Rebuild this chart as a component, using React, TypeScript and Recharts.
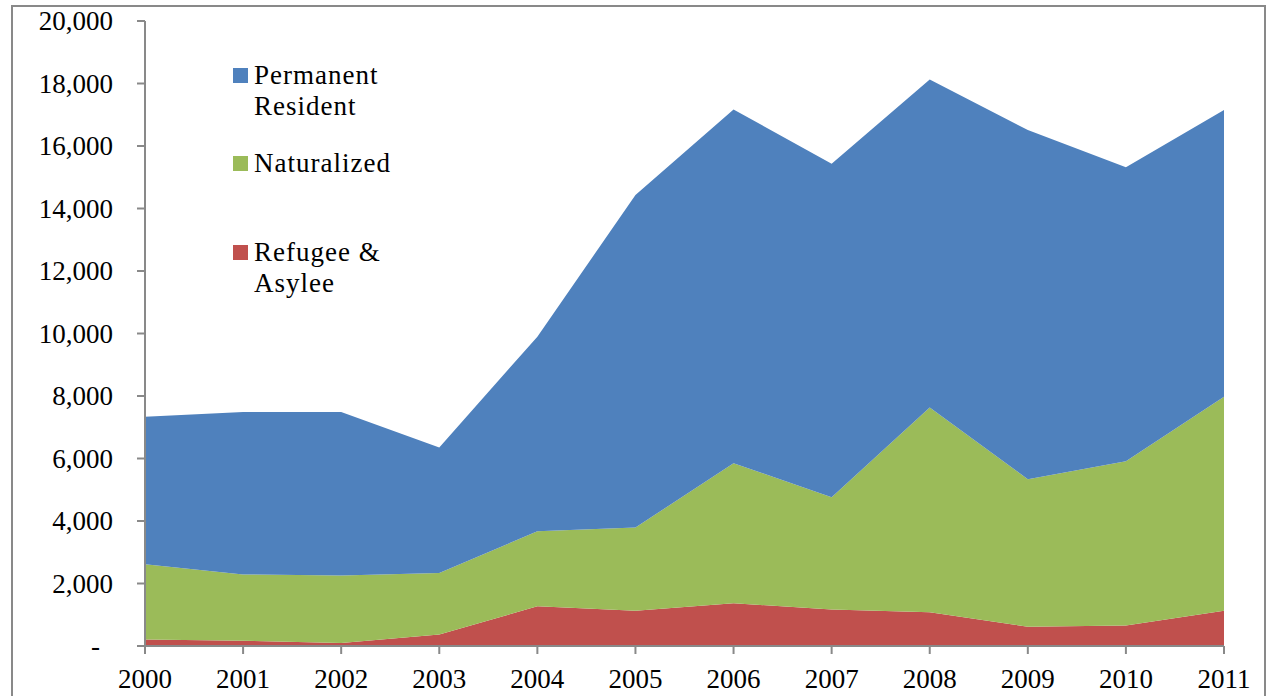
import React from "react";
import { AreaChart, Area, XAxis, YAxis } from "recharts";

const years = ["2000", "2001", "2002", "2003", "2004", "2005", "2006", "2007", "2008", "2009", "2010", "2011"];
const refugeeAsylee = [210, 170, 100, 370, 1270, 1130, 1370, 1170, 1080, 620, 660, 1130];
const naturalized = [2410, 2120, 2160, 1970, 2400, 2660, 4480, 3590, 6550, 4720, 5250, 6850];
const permanentResident = [4720, 5200, 5230, 4010, 6230, 10640, 11320, 10670, 10500, 11170, 9410, 9170];
const yTicks = [0, 2000, 4000, 6000, 8000, 10000, 12000, 14000, 16000, 18000, 20000];

const series = [
  { key: "refugee", name: "Refugee & Asylee", color: "#C0504D" },
  { key: "naturalized", name: "Naturalized", color: "#9BBB59" },
  { key: "permanent", name: "Permanent Resident", color: "#4F81BD" },
];

const data = years.map((year, i) => ({
  year,
  refugee: refugeeAsylee[i],
  naturalized: naturalized[i],
  permanent: permanentResident[i],
}));

const FONT = "'Liberation Serif', 'DejaVu Serif', serif";
const AXIS = "#898989";

const YTick = ({ x, y, payload }: any) => {
  const v = payload.value as number;
  return (
    <text
      x={v === 0 ? x - 13 : x}
      y={y}
      textAnchor="end"
      dominantBaseline="central"
      fill="#000"
      fontSize={27}
      fontFamily={FONT}
    >
      {v === 0 ? "-" : v.toLocaleString("en-US")}
    </text>
  );
};

// legend entries sit at fixed spots, like the Excel legend
const legendTops = [60, 148, 237];

export default function App() {
  const legendItems = [...series].reverse();
  return (
    <div style={{ position: "absolute", left: 0, top: 0, width: 1270, height: 696, overflow: "hidden", background: "#fff" }}>
      <div
        style={{
          position: "absolute",
          left: 11,
          top: 5,
          width: 1255,
          height: 720,
          border: `2px solid ${AXIS}`,
          boxSizing: "border-box",
        }}
      />
      <div style={{ position: "absolute", left: 0, top: 0 }}>
        <AreaChart width={1270} height={696} data={data} margin={{ top: 21, right: 46, left: 0, bottom: 0 }}>
          <XAxis
            dataKey="year"
            height={50}
            stroke={AXIS}
            strokeWidth={2}
            tickSize={8}
            tickMargin={15}
            tick={{ fill: "#000", fontSize: 27, fontFamily: FONT }}
            tickLine={{ stroke: AXIS, strokeWidth: 2 }}
            interval={0}
          />
          <YAxis
            width={145}
            domain={[0, 20000]}
            ticks={yTicks}
            stroke={AXIS}
            strokeWidth={2}
            tickSize={8}
            tickMargin={24}
            tick={<YTick />}
            tickLine={{ stroke: AXIS, strokeWidth: 2 }}
            interval={0}
          />
          {series.map((s) => (
            <Area
              key={s.key}
              type="linear"
              dataKey={s.key}
              name={s.name}
              stackId="a"
              stroke="none"
              fill={s.color}
              fillOpacity={1}
              isAnimationActive={false}
            />
          ))}
        </AreaChart>
      </div>
      {legendItems.map((s, i) => (
        <div
          key={s.key}
          style={{
            position: "absolute",
            left: 233,
            top: legendTops[i],
            display: "flex",
            alignItems: "flex-start",
            fontFamily: FONT,
            fontSize: 27,
            lineHeight: "31px",
            letterSpacing: 1,
            color: "#000",
          }}
        >
          <div style={{ width: 15, height: 15, background: s.color, marginTop: 8, marginRight: 6 }} />
          <div style={{ maxWidth: 140 }}>{s.name}</div>
        </div>
      ))}
    </div>
  );
}
